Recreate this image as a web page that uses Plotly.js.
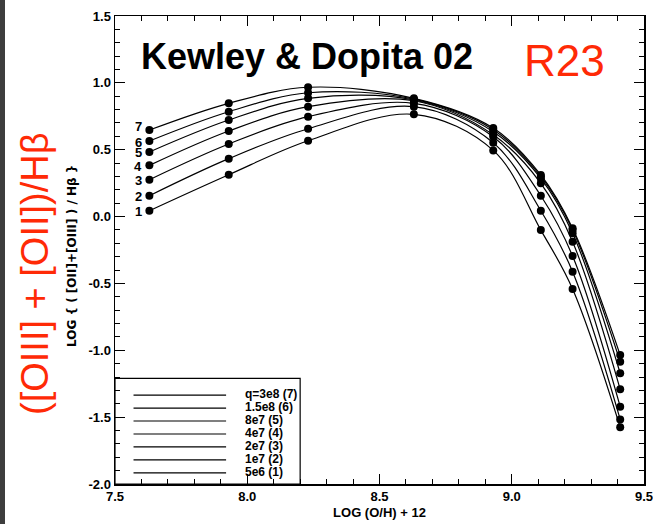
<!DOCTYPE html>
<html>
<head>
<meta charset="utf-8">
<script src="https://cdn.plot.ly/plotly-3.0.1.min.js"></script>
<style>
  html, body { margin: 0; padding: 0; background: #ffffff; }
  #wrap { position: relative; width: 653px; height: 524px; }
  #chart { width: 653px; height: 524px; }
  #edge { position: absolute; left: 0; top: 0; width: 5px; height: 524px; background: #3d3d3d; }
</style>
</head>
<body>
<div id="wrap"><div id="chart"></div><div id="edge"></div></div>
<script>
// Metallicity grid, 12 + log(O/H)
var logOH = [7.63, 7.93, 8.23, 8.63, 8.93, 9.11, 9.23, 9.41];

// log R23 for each ionization parameter model
var q7 = [0.647, 0.847, 0.967, 0.884, 0.662, 0.311, -0.088, -1.036];
var q6 = [0.565, 0.784, 0.926, 0.878, 0.650, 0.300, -0.100, -1.086];
var q5 = [0.483, 0.722, 0.884, 0.872, 0.635, 0.285, -0.125, -1.172];
var q4 = [0.383, 0.640, 0.822, 0.866, 0.612, 0.249, -0.188, -1.292];
var q3 = [0.276, 0.543, 0.747, 0.847, 0.597, 0.156, -0.295, -1.422];
var q2 = [0.156, 0.433, 0.657, 0.822, 0.552, 0.044, -0.412, -1.517];
var q1 = [0.044, 0.313, 0.567, 0.765, 0.495, -0.101, -0.542, -1.576];

var curveIds = ['7', '6', '5', '4', '3', '2', '1'];
var legendLabels = ['q=3e8 (7)', '1.5e8 (6)', '8e7 (5)', '4e7 (4)', '2e7 (3)', '1e7 (2)', '5e6 (1)'];

var xTickVals = [7.5, 8.0, 8.5, 9.0, 9.5];
var xTickText = ['7.5', '8.0', '8.5', '9.0', '9.5'];
var yTickVals = [-2.0, -1.5, -1.0, -0.5, 0.0, 0.5, 1.0, 1.5];
var yTickText = ['-2.0', '-1.5', '-1.0', '-0.5', '0.0', '0.5', '1.0', '1.5'];

var series = [q7, q6, q5, q4, q3, q2, q1];

var W = 653, H = 524;
var M = { l: 115, r: 9, t: 16, b: 40 };
var plotW = W - M.l - M.r, plotH = H - M.t - M.b;
function px(xp) { return (xp - M.l) / plotW; }
function py(yp) { return (H - M.b - yp) / plotH; }

var HELV = 'Liberation Sans, Arial, Helvetica, sans-serif';
var RED = '#ff2a06';

var traces = series.map(function (ys, i) {
  return {
    x: logOH, y: ys, type: 'scatter', mode: 'lines+markers',
    line: { color: '#000000', width: 1.2, shape: 'spline', smoothing: 1 },
    marker: { color: '#000000', size: 8 },
    showlegend: false, hoverinfo: 'skip', name: legendLabels[i]
  };
});

var annotations = [];
// curve numbers beside the low-metallicity end (top one nudged up a little)
series.forEach(function (ys, i) {
  annotations.push({
    x: logOH[0], y: ys[0], xref: 'x', yref: 'y', text: curveIds[i],
    showarrow: false, xanchor: 'center', yanchor: 'middle',
    xshift: -11, yshift: i === 0 ? 4 : -1,
    font: { family: HELV, size: 13, color: '#000', weight: 'bold' }
  });
});

// key box in the lower-left corner
var shapes = [{
  type: 'rect', xref: 'x', yref: 'y', x0: 7.5, x1: 8.2, y0: -2.0, y1: -1.21,
  line: { color: '#000', width: 1.2 }, fillcolor: 'rgba(0,0,0,0)', layer: 'above'
}];
legendLabels.forEach(function (lab, i) {
  var yy = -1.335 - i * 0.097;
  shapes.push({
    type: 'line', xref: 'x', yref: 'y', x0: 7.57, x1: 7.92, y0: yy, y1: yy,
    line: { color: '#000', width: 1.2 }
  });
  annotations.push({
    x: 7.985, y: yy, xref: 'x', yref: 'y', text: lab, showarrow: false,
    xanchor: 'left', yanchor: 'middle', yshift: 1,
    font: { family: HELV, size: 12, color: '#000', weight: 'bold' }
  });
});

// headings
annotations.push({
  x: px(307), y: py(56), xref: 'paper', yref: 'paper', text: 'Kewley & Dopita 02',
  showarrow: false, xanchor: 'center', yanchor: 'middle',
  font: { family: HELV, size: 36, color: '#000', weight: 'bold' }
});
annotations.push({
  x: px(564), y: py(60), xref: 'paper', yref: 'paper', text: 'R23',
  showarrow: false, xanchor: 'center', yanchor: 'middle',
  font: { family: HELV, size: 44, color: RED }
});
annotations.push({
  x: px(35), y: py(274), xref: 'paper', yref: 'paper', text: '([OIII] + [OII])/Hβ',
  showarrow: false, xanchor: 'center', yanchor: 'middle', textangle: -90,
  font: { family: HELV, size: 38, color: RED }
});
annotations.push({
  x: px(72), y: py(256), xref: 'paper', yref: 'paper', text: 'LOG { ( [OII]+[OIII] ) / Hβ }',
  showarrow: false, xanchor: 'center', yanchor: 'middle', textangle: -90,
  font: { family: 'DejaVu Sans, sans-serif', size: 12, color: '#000', weight: 'bold' }
});

var axisCommon = {
  showline: true, linecolor: '#000', linewidth: 1.5, mirror: 'ticks',
  ticks: 'inside', ticklen: 10, tickwidth: 1.2, tickcolor: '#000',
  showgrid: false, zeroline: false, ticklabeloverflow: 'allow',
  tickfont: { family: HELV, size: 13, color: '#000', weight: 'bold' }
};

var layout = {
  width: W, height: H, margin: M,
  paper_bgcolor: '#ffffff', plot_bgcolor: '#ffffff',
  xaxis: Object.assign({}, axisCommon, {
    range: [7.5, 9.5], tickmode: 'array', tickvals: xTickVals, ticktext: xTickText,
    minor: { dtick: 0.1, tick0: 7.5, ticks: 'inside', ticklen: 5, tickwidth: 1, tickcolor: '#000', showgrid: false },
    title: { text: 'LOG (O/H) + 12', standoff: 5, font: { family: HELV, size: 13, color: '#000', weight: 'bold' } }
  }),
  yaxis: Object.assign({}, axisCommon, {
    range: [-2.0, 1.5], tickmode: 'array', tickvals: yTickVals, ticktext: yTickText,
    minor: { dtick: 0.1, tick0: -2.0, ticks: 'inside', ticklen: 5, tickwidth: 1, tickcolor: '#000', showgrid: false }
  }),
  shapes: shapes,
  annotations: annotations,
  showlegend: false
};

Plotly.newPlot('chart', traces, layout, { displayModeBar: false, staticPlot: true });
</script>
</body>
</html>
